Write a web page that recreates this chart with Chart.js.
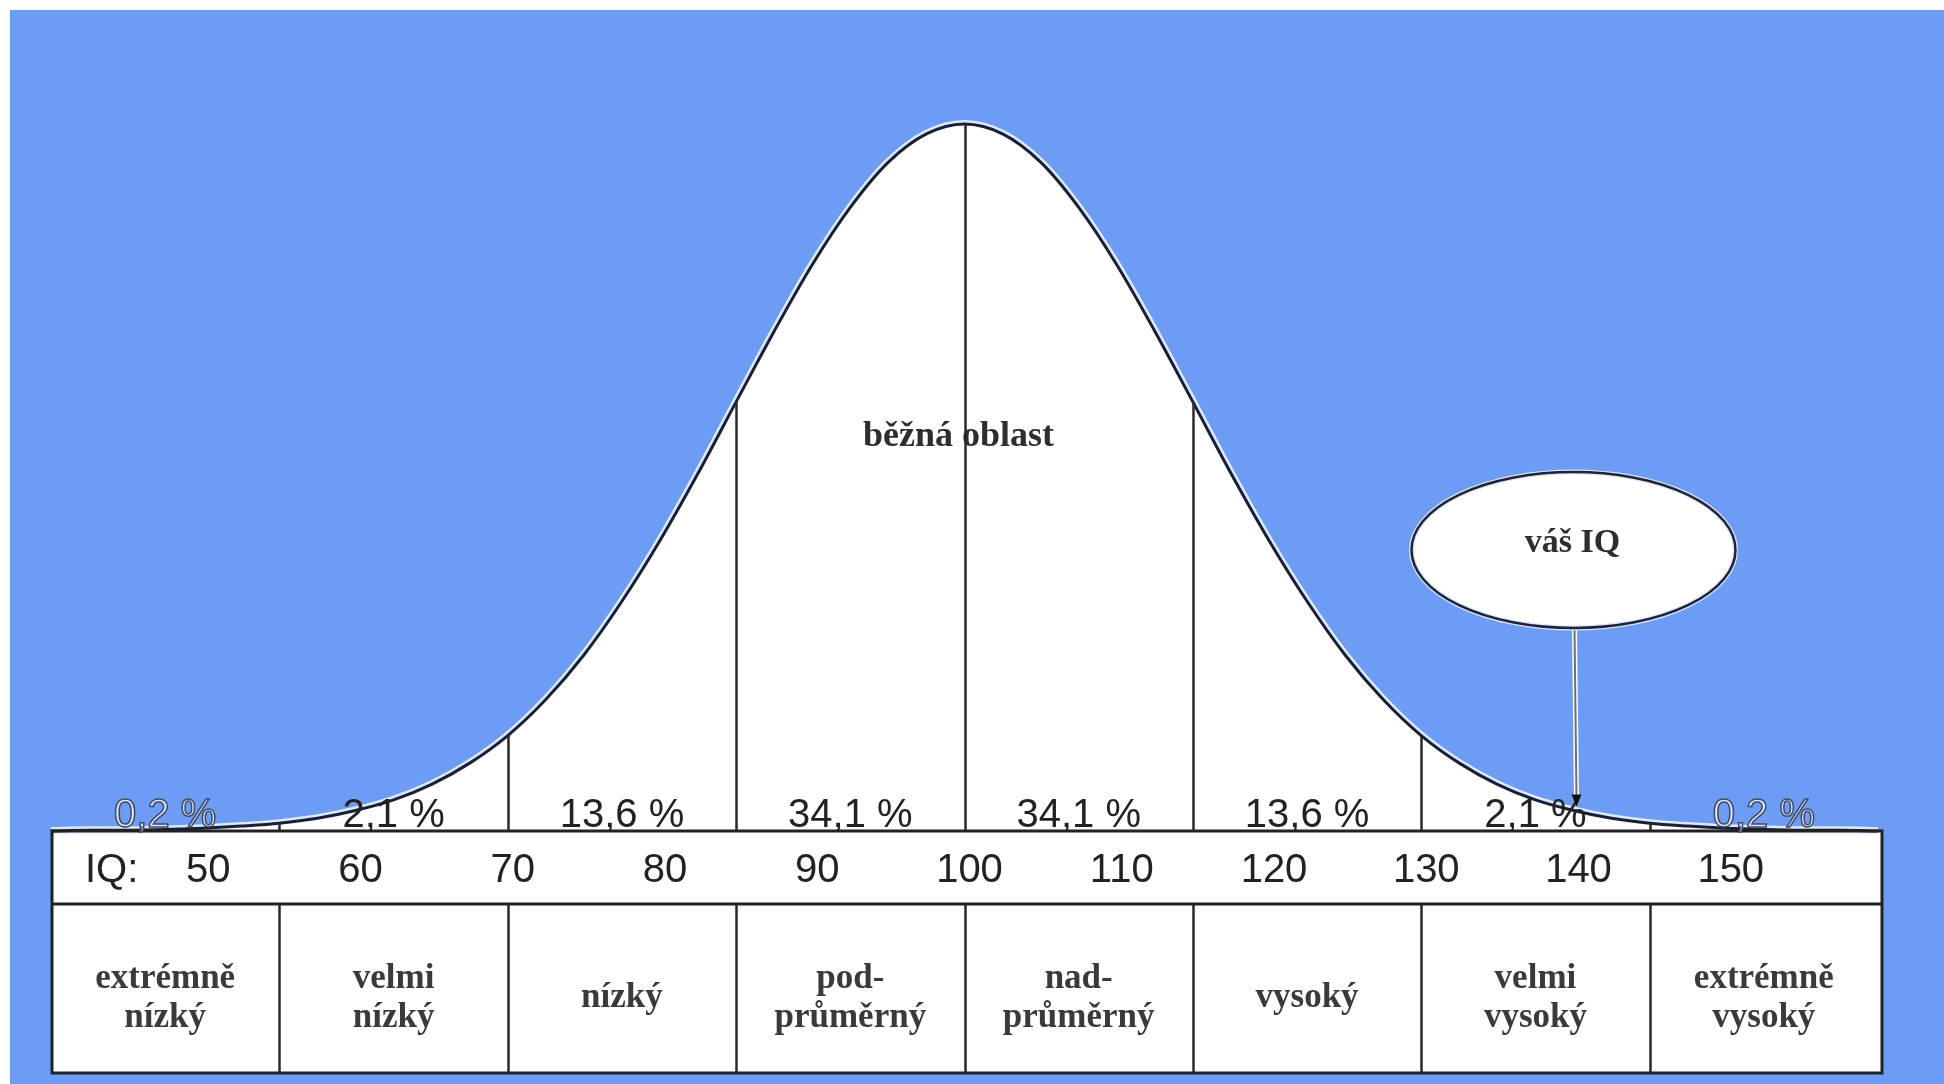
<!DOCTYPE html>
<html>
<head>
<meta charset="utf-8">
<script src="https://cdn.jsdelivr.net/npm/chart.js@4.4.1/dist/chart.umd.min.js"></script>
<style>
  html, body { margin: 0; padding: 0; background: #ffffff; }
  #wrap { width: 1944px; height: 1084px; position: relative; }
</style>
</head>
<body>
<div id="wrap"><canvas id="c"></canvas></div>
<script>
// ---- data ----
const iqValues = [40, 42.5, 45, 47.5, 50, 52.5, 55, 57.5, 60, 62.5, 65, 67.5, 70, 72.5, 75, 77.5,
  80, 82.5, 85, 87.5, 90, 92.5, 95, 97.5, 100, 102.5, 105, 107.5, 110, 112.5, 115, 117.5,
  120, 122.5, 125, 127.5, 130, 132.5, 135, 137.5, 140, 142.5, 145, 147.5, 150, 152.5, 155, 157.5, 160];
const curveHeights = [0, 0.1, 0.1, 0.2, 0.4, 0.7, 1.1, 1.8, 2.9, 4.4, 6.6, 9.6, 13.5, 18.6, 24.9, 32.5,
  41.1, 50.6, 60.7, 70.7, 80.1, 88.2, 94.6, 98.6, 100, 98.6, 94.6, 88.2, 80.1, 70.7, 60.7, 50.6,
  41.1, 32.5, 24.9, 18.6, 13.5, 9.6, 6.6, 4.4, 2.9, 1.8, 1.1, 0.7, 0.4, 0.2, 0.1, 0.1, 0];
const bandEdges = [40, 55, 70, 85, 100, 115, 130, 145, 160];
const bandPercents = ['0,2 %', '2,1 %', '13,6 %', '34,1 %', '34,1 %', '13,6 %', '2,1 %', '0,2 %'];
const bandNames = [['extrémně', 'nízký'], ['velmi', 'nízký'], ['nízký'], ['pod-', 'průměrný'],
  ['nad-', 'průměrný'], ['vysoký'], ['velmi', 'vysoký'], ['extrémně', 'vysoký']];
const iqTicks = [50, 60, 70, 80, 90, 100, 110, 120, 130, 140, 150];
const iqAxisTitle = 'IQ:';
const centerLabel = 'běžná oblast';
const centerLabelPos = { x: 99.6, y: 56.2 };
const yourIqLabel = 'váš IQ';
const yourIq = 140;

// ---- style ----
const BLUE = '#6c9cf4';
const LINE = '#2a2a2a';
const IQ_ROW_H = 73;
const CAT_ROW_H = 169;
const TABLE_EXTRA_RIGHT = 4;
const TICK_SHIFT = 5;

const points = iqValues.map((v, i) => ({ x: v, y: curveHeights[i] }));

const iqPlugin = {
  id: 'iqPlugin',
  beforeDraw(chart) {
    const { ctx, width, height } = chart;
    const { x, y } = chart.scales;
    ctx.save();
    ctx.fillStyle = '#ffffff';
    ctx.fillRect(0, 0, width, height);
    ctx.fillStyle = BLUE;
    ctx.fillRect(10, 10, width - 10, height - 10);
    const L = x.getPixelForValue(bandEdges[0]) + 1;
    const R = x.getPixelForValue(bandEdges[bandEdges.length - 1]) + TABLE_EXTRA_RIGHT;
    const top = y.getPixelForValue(0);
    ctx.fillStyle = '#ffffff';
    ctx.fillRect(L, top, R - L, IQ_ROW_H + CAT_ROW_H);
    ctx.restore();
  },
  afterDatasetsDraw(chart) {
    const { ctx } = chart;
    const { x, y } = chart.scales;
    const meta = chart.getDatasetMeta(1);
    const L = x.getPixelForValue(bandEdges[0]) + 1;
    const R = x.getPixelForValue(bandEdges[bandEdges.length - 1]) + TABLE_EXTRA_RIGHT;
    const top = y.getPixelForValue(0);
    const mid = top + IQ_ROW_H;
    const bot = mid + CAT_ROW_H;
    const curveY = (v) => {
      const idx = iqValues.indexOf(v);
      return meta.data[idx].y;
    };
    ctx.save();

    // center label (under the divider line)
    ctx.fillStyle = '#2e2e2e';
    ctx.font = 'bold 36px "Liberation Serif", "DejaVu Serif", serif';
    ctx.textAlign = 'center';
    ctx.textBaseline = 'middle';
    ctx.fillText(centerLabel, x.getPixelForValue(centerLabelPos.x), y.getPixelForValue(centerLabelPos.y) + 3);

    // dividers under curve
    ctx.strokeStyle = LINE;
    ctx.lineWidth = 2.5;
    for (let i = 1; i < bandEdges.length - 1; i++) {
      const px = Math.round(x.getPixelForValue(bandEdges[i])) + 0.5;
      ctx.beginPath();
      ctx.moveTo(px, curveY(bandEdges[i]));
      ctx.lineTo(px, top);
      ctx.stroke();
      ctx.beginPath();
      ctx.moveTo(px, mid);
      ctx.lineTo(px, bot);
      ctx.stroke();
    }

    // table borders
    ctx.lineWidth = 3;
    ctx.strokeStyle = '#222222';
    ctx.strokeRect(L, top, R - L, IQ_ROW_H + CAT_ROW_H);
    ctx.beginPath();
    ctx.moveTo(L, mid);
    ctx.lineTo(R, mid);
    ctx.stroke();

    // percent labels
    ctx.font = '40px "Liberation Sans", Arial, sans-serif';
    ctx.textAlign = 'center';
    ctx.textBaseline = 'middle';
    for (let i = 0; i < bandPercents.length; i++) {
      const cx = x.getPixelForValue((bandEdges[i] + bandEdges[i + 1]) / 2);
      const ty = top - 15;
      if (i === 0 || i === bandPercents.length - 1) {
        ctx.fillStyle = '#dfe8fa';
        ctx.strokeStyle = '#3e4a66';
        ctx.lineWidth = 1.5;
        ctx.fillText(bandPercents[i], cx, ty);
        ctx.strokeText(bandPercents[i], cx, ty);
      } else {
        ctx.fillStyle = '#222222';
        ctx.fillText(bandPercents[i], cx, ty);
      }
    }

    // IQ tick labels
    ctx.fillStyle = '#222222';
    ctx.font = '40px "Liberation Sans", Arial, sans-serif';
    const rowY = top + IQ_ROW_H / 2 + 3;
    iqTicks.forEach(t => ctx.fillText(String(t), x.getPixelForValue(t) + TICK_SHIFT, rowY));
    ctx.textAlign = 'left';
    ctx.fillText(iqAxisTitle, L + 33, rowY);

    // category labels
    ctx.textAlign = 'center';
    ctx.fillStyle = '#3a3a3a';
    ctx.font = 'bold 35px "Liberation Serif", "DejaVu Serif", serif';
    const catCY = mid + 94;
    const lh = 39;
    for (let i = 0; i < bandNames.length; i++) {
      const cx = x.getPixelForValue((bandEdges[i] + bandEdges[i + 1]) / 2);
      const lines = bandNames[i];
      const start = catCY - (lines.length - 1) * lh / 2;
      lines.forEach((ln, k) => ctx.fillText(ln, cx, start + k * lh));
    }

    // "váš IQ" bubble and arrow
    const bx = x.getPixelForValue(yourIq);
    const by = top - 281;
    const rx = 162, ry = 78;
    const tipY = curveY(yourIq) - 6;
    ctx.strokeStyle = '#ffffff';
    ctx.lineWidth = 5;
    ctx.beginPath();
    ctx.moveTo(bx + 1, by + ry);
    ctx.lineTo(bx + 3, tipY - 6);
    ctx.stroke();
    ctx.strokeStyle = '#6a6f7a';
    ctx.lineWidth = 2;
    ctx.beginPath();
    ctx.moveTo(bx + 1, by + ry);
    ctx.lineTo(bx + 3, tipY - 6);
    ctx.stroke();
    ctx.fillStyle = '#111111';
    ctx.beginPath();
    ctx.moveTo(bx + 3, tipY + 2);
    ctx.lineTo(bx - 2, tipY - 10);
    ctx.lineTo(bx + 8, tipY - 10);
    ctx.closePath();
    ctx.fill();

    ctx.beginPath();
    ctx.ellipse(bx, by, rx, ry, 0, 0, Math.PI * 2);
    ctx.fillStyle = '#ffffff';
    ctx.fill();
    ctx.lineWidth = 5;
    ctx.strokeStyle = '#dbe6fb';
    ctx.stroke();
    ctx.lineWidth = 2.5;
    ctx.strokeStyle = '#1d2438';
    ctx.stroke();
    ctx.fillStyle = '#2e2e2e';
    ctx.font = 'bold 34px "Liberation Serif", "DejaVu Serif", serif';
    ctx.fillText(yourIqLabel, bx - 1, by - 7);

    ctx.restore();
  }
};

new Chart(document.getElementById('c'), {
  type: 'line',
  data: {
    datasets: [
      {
        data: points,
        borderColor: 'rgba(235,242,255,0.9)',
        borderWidth: 8,
        pointRadius: 0,
        fill: false,
        cubicInterpolationMode: 'monotone',
        clip: false,
        order: 2
      },
      {
        data: points,
        borderColor: '#17203a',
        borderWidth: 3,
        backgroundColor: '#ffffff',
        pointRadius: 0,
        fill: 'origin',
        cubicInterpolationMode: 'monotone',
        clip: false,
        order: 1
      }
    ]
  },
  options: {
    responsive: true,
    maintainAspectRatio: false,
    animation: false,
    layout: { padding: { left: 51, right: 66, top: 124, bottom: 253 } },
    plugins: { legend: { display: false }, tooltip: { enabled: false } },
    scales: {
      x: { type: 'linear', min: 40, max: 160, display: false },
      y: { min: 0, max: 100, display: false }
    }
  },
  plugins: [iqPlugin]
});
</script>
</body>
</html>
